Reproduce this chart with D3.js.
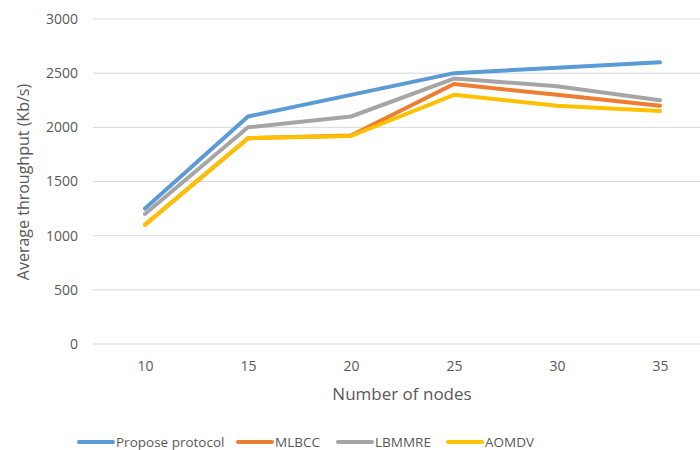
<!DOCTYPE html>
<html>
<head>
<meta charset="utf-8">
<script src="https://cdn.jsdelivr.net/npm/d3@7"></script>
<style>
  body { margin: 0; background: #fff; }
  svg { display: block; }
  text { font-family: "Open Sans", "Liberation Sans", sans-serif; fill: #595959; }
</style>
</head>
<body>
<svg id="chart" width="700" height="450"></svg>
<script>
// Number of nodes (x categories)
const nodes = ["10", "15", "20", "25", "30", "35"];

// Average throughput (Kb/s) per protocol
const proposeProtocol = [1250, 2100, 2300, 2500, 2550, 2600];
const mlbcc           = [1100, 1900, 1925, 2400, 2300, 2200];
const lbmmre          = [1200, 2000, 2100, 2450, 2380, 2250];
const aomdv           = [1100, 1900, 1920, 2300, 2200, 2150];

const seriesNames = ["Propose protocol", "MLBCC", "LBMMRE", "AOMDV"];
const yTicks = [0, 500, 1000, 1500, 2000, 2500, 3000];

const colors = ["#5b9bd5", "#ed7d31", "#a5a5a5", "#ffc000"];
const seriesValues = [proposeProtocol, mlbcc, lbmmre, aomdv];

const svg = d3.select("#chart");

const x = d3.scalePoint().domain(nodes).range([145, 660]);
const y = d3.scaleLinear().domain([0, 3000]).range([344, 19]);

// Horizontal gridlines
svg.append("g")
  .selectAll("line")
  .data(yTicks)
  .join("line")
  .attr("x1", 93).attr("x2", 700)
  .attr("y1", d => y(d)).attr("y2", d => y(d))
  .attr("stroke", "#d9d9d9").attr("stroke-width", 1);

// Y axis labels
const yAxis = svg.append("g")
  .attr("transform", "translate(78,0)")
  .call(d3.axisLeft(y).tickValues(yTicks).tickFormat(d3.format("d")).tickSize(0).tickPadding(0));
yAxis.select(".domain").remove();
yAxis.selectAll("text")
  .attr("font-size", 14).attr("fill", "#595959")
  .style("font-family", "'Open Sans', sans-serif");

// X axis labels
const xAxis = svg.append("g")
  .attr("transform", "translate(0,361)")
  .call(d3.axisBottom(x).tickSize(0).tickPadding(0));
xAxis.select(".domain").remove();
xAxis.selectAll("text")
  .attr("font-size", 14).attr("fill", "#595959")
  .style("font-family", "'Open Sans', sans-serif");

// Axis titles
svg.append("text")
  .attr("x", 402).attr("y", 400)
  .attr("text-anchor", "middle")
  .attr("font-size", 17)
  .text("Number of nodes");

svg.append("text")
  .attr("transform", "translate(29,182) rotate(-90)")
  .attr("text-anchor", "middle")
  .attr("font-size", 16)
  .text("Average throughput (Kb/s)");

// Series lines
const line = d3.line()
  .x((d, i) => x(nodes[i]))
  .y(d => y(d));

svg.append("g")
  .selectAll("path")
  .data(seriesValues)
  .join("path")
  .attr("d", d => line(d))
  .attr("fill", "none")
  .attr("stroke", (d, i) => colors[i])
  .attr("stroke-width", 4)
  .attr("stroke-linejoin", "round")
  .attr("stroke-linecap", "round");

// Legend
const legendX = [79, 238, 338, 448];
const legend = svg.append("g")
  .selectAll("g")
  .data(seriesNames)
  .join("g")
  .attr("transform", (d, i) => `translate(${legendX[i]},442)`);

legend.append("line")
  .attr("x1", 0).attr("x2", 34)
  .attr("y1", 0).attr("y2", 0)
  .attr("stroke", (d, i) => colors[i])
  .attr("stroke-width", 4)
  .attr("stroke-linecap", "round");

legend.append("text")
  .attr("x", 37).attr("y", 5)
  .attr("font-size", 13.5)
  .text(d => d);
</script>
</body>
</html>
